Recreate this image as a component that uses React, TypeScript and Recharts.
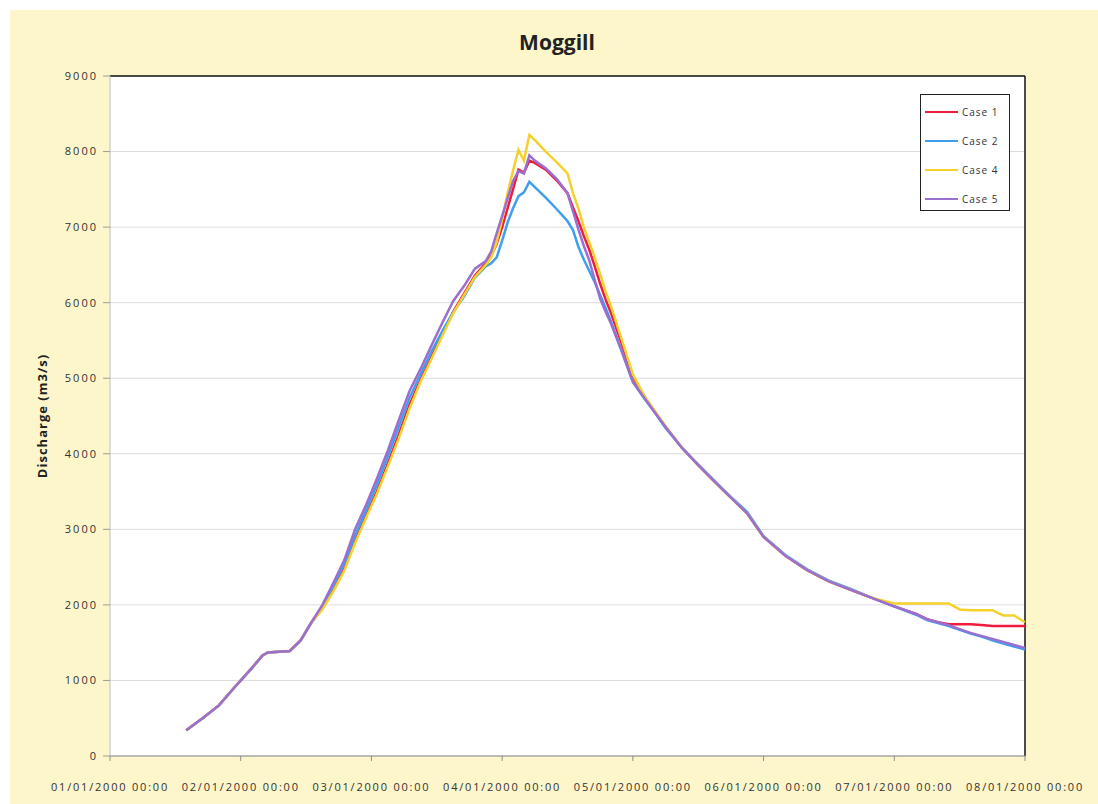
import React from 'react';
import { LineChart, Line, XAxis, YAxis, CartesianGrid, Legend, ReferenceLine } from 'recharts';

// hours since 01/01/2000 00:00
const hours = [
  14, 17, 20, 23, 26, 28, 29, 33, 35, 37,
  39, 41, 43, 45, 47, 49, 51, 53, 55, 57,
  59, 61, 63, 65, 67, 69, 70, 71, 72, 73,
  74, 75, 76, 77, 78, 80, 82, 84, 85, 86,
  87, 88, 89, 90, 91, 92, 94, 96, 98, 100,
  102, 105, 108, 111, 114, 117, 120, 124, 128, 132,
  136, 140, 144, 148, 150, 152, 154, 156, 158, 160,
  162, 164, 166, 168,
];

// discharge, m3/s
const case1 = [
  340, 500, 670, 920, 1160, 1330, 1370, 1390, 1530, 1770,
  1950, 2200, 2480, 2850, 3180, 3500, 3870, 4250, 4650, 4980,
  5280, 5580, 5880, 6120, 6360, 6520, 6620, 6780, 7000, 7250,
  7500, 7760, 7720, 7880, 7850, 7760, 7620, 7450, 7260, 7080,
  6880, 6700, 6480, 6250, 6040, 5860, 5450, 5020, 4770, 4560,
  4360, 4080, 3850, 3630, 3420, 3210, 2900, 2650, 2460, 2310,
  2200, 2090, 1980, 1880, 1810, 1770, 1745, 1745, 1745, 1735,
  1720, 1720, 1720, 1720,
];

const case2 = [
  340, 500, 670, 920, 1160, 1330, 1370, 1390, 1530, 1770,
  1980, 2250, 2540, 2920, 3250, 3590, 3960, 4350, 4740, 5050,
  5350, 5620, 5870, 6080, 6330, 6480, 6520, 6600, 6820, 7060,
  7250, 7410, 7460, 7600, 7530, 7390, 7240, 7080, 6960, 6740,
  6570, 6420, 6270, 6100, 5930, 5750, 5350, 4950, 4740, 4550,
  4340, 4080, 3860, 3640, 3430, 3230, 2910, 2660, 2470, 2320,
  2210, 2090, 1980, 1870, 1800, 1760, 1720, 1670, 1620, 1580,
  1530, 1490, 1450, 1410,
];

const case4 = [
  340, 500, 670, 920, 1160, 1330, 1370, 1390, 1530, 1770,
  1940, 2180, 2450, 2820, 3150, 3470, 3830, 4200, 4600, 4950,
  5250, 5560, 5860, 6100, 6340, 6500, 6600, 6800, 7100, 7450,
  7750, 8020, 7880, 8220, 8150, 8000, 7860, 7710, 7450, 7250,
  7000, 6800, 6600, 6380, 6150, 5950, 5500, 5050, 4780, 4570,
  4360, 4080, 3850, 3630, 3420, 3210, 2900, 2650, 2460, 2310,
  2200, 2090, 2020, 2020, 2020, 2020, 2020, 1940, 1930, 1930,
  1930, 1860, 1860, 1770,
];

const case5 = [
  340, 500, 670, 920, 1160, 1330, 1370, 1390, 1530, 1770,
  2000, 2290, 2590, 3000, 3320, 3670, 4040, 4440, 4830, 5120,
  5430, 5730, 6020, 6220, 6450, 6550, 6680, 6920, 7150, 7380,
  7610, 7740, 7710, 7950, 7880, 7780, 7640, 7450, 7210, 6970,
  6750, 6560, 6300, 6050, 5880, 5720, 5350, 4950, 4750, 4550,
  4350, 4080, 3850, 3630, 3420, 3210, 2900, 2650, 2460, 2310,
  2200, 2090, 1980, 1880, 1810, 1770, 1730, 1680, 1630, 1590,
  1550, 1510, 1470, 1430,
];

const dayTicks = [0, 24, 48, 72, 96, 120, 144, 168];
const flowTicks = [0, 1000, 2000, 3000, 4000, 5000, 6000, 7000, 8000, 9000];

const series = [
  { key: 'case1', name: 'Case 1', color: '#ef1c3c', values: case1 },
  { key: 'case2', name: 'Case 2', color: '#3f9fee', values: case2 },
  { key: 'case4', name: 'Case 4', color: '#f4d12c', values: case4 },
  { key: 'case5', name: 'Case 5', color: '#9a6fcf', values: case5 },
];

const data = hours.map((h, i) => {
  const row: Record<string, number> = { h };
  series.forEach((s) => { row[s.key] = s.values[i]; });
  return row;
});

const FONT = '"Open Sans", "DejaVu Sans", sans-serif';

const formatDate = (h: number) => {
  const day = String(Math.round(h / 24) + 1).padStart(2, '0');
  return `${day}/01/2000 00:00`;
};

const renderLegend = (props: any) => (
  <div
    style={{
      width: 90,
      height: 117,
      boxSizing: 'border-box',
      border: '1px solid #222',
      background: '#fff',
      padding: '2px 0 0 4px',
      fontFamily: FONT,
    }}
  >
    {(props.payload || []).map((entry: any) => (
      <div key={entry.value} style={{ display: 'flex', alignItems: 'center', height: 29 }}>
        <svg width={33} height={4}>
          <line x1={0} y1={2} x2={33} y2={2} stroke={entry.color} strokeWidth={2} />
        </svg>
        <span style={{ marginLeft: 4, fontSize: 10, letterSpacing: 1, color: '#333' }}>{entry.value}</span>
      </div>
    ))}
  </div>
);

const renderYLabel = (props: any) => {
  const vb = props.viewBox || { x: 0, y: 0, width: 0, height: 0 };
  const cx = vb.x + 32;
  const cy = vb.y + vb.height / 2;
  return (
    <text
      x={cx}
      y={cy}
      transform={`rotate(-90, ${cx}, ${cy})`}
      textAnchor="middle"
      dominantBaseline="central"
      fontFamily={FONT}
      fontSize={13}
      fontWeight={700}
      letterSpacing={1}
      fill="#222"
    >
      Discharge (m3/s)
    </text>
  );
};

export default function App() {
  return (
    <div
      style={{
        position: 'absolute',
        left: 10,
        top: 10,
        width: 1088,
        height: 794,
        background: '#fdf6cb',
        fontFamily: FONT,
      }}
    >
      <div
        style={{
          position: 'absolute',
          left: 0,
          top: 18,
          width: 1094,
          textAlign: 'center',
          fontSize: 21,
          fontWeight: 700,
          color: '#222',
        }}
      >
        Moggill
      </div>
      <div style={{ position: 'absolute', left: 0, top: 0 }}>
        <LineChart width={1088} height={794} data={data} margin={{ top: 66, right: 73, bottom: 8, left: 0 }}>
          <CartesianGrid horizontal vertical={false} stroke="#dcdcdc" fill="#ffffff" />
          <XAxis
            dataKey="h"
            type="number"
            domain={[0, 168]}
            ticks={dayTicks}
            tickFormatter={formatDate}
            height={40}
            tickSize={5}
            tickMargin={22}
            interval={0}
            axisLine={{ stroke: '#8c8c8c' }}
            tickLine={{ stroke: '#8c8c8c' }}
            tick={{ fontSize: 11, letterSpacing: 1.8, fill: '#333', fontFamily: FONT }}
          />
          <YAxis
            type="number"
            domain={[0, 9000]}
            ticks={flowTicks}
            width={100}
            tickSize={7}
            tickMargin={5}
            interval={0}
            axisLine={{ stroke: '#bdbdbd' }}
            tickLine={{ stroke: '#9c9c9c' }}
            tick={{ fontSize: 11, letterSpacing: 2, fill: '#333', fontFamily: FONT }}
            label={{ content: renderYLabel }}
          />
          <ReferenceLine y={9000} stroke="#111" strokeWidth={1.5} />
          <ReferenceLine x={168} stroke="#111" strokeWidth={1.5} />
          {series.map((s) => (
            <Line
              key={s.key}
              type="linear"
              dataKey={s.key}
              name={s.name}
              stroke={s.color}
              strokeWidth={2.5}
              dot={false}
              activeDot={false}
              isAnimationActive={false}
            />
          ))}
          <Legend
            layout="vertical"
            align="center"
            verticalAlign="middle"
            content={renderLegend}
            wrapperStyle={{ left: 910, top: 84, width: 90, height: 117 }}
          />
        </LineChart>
      </div>
    </div>
  );
}
